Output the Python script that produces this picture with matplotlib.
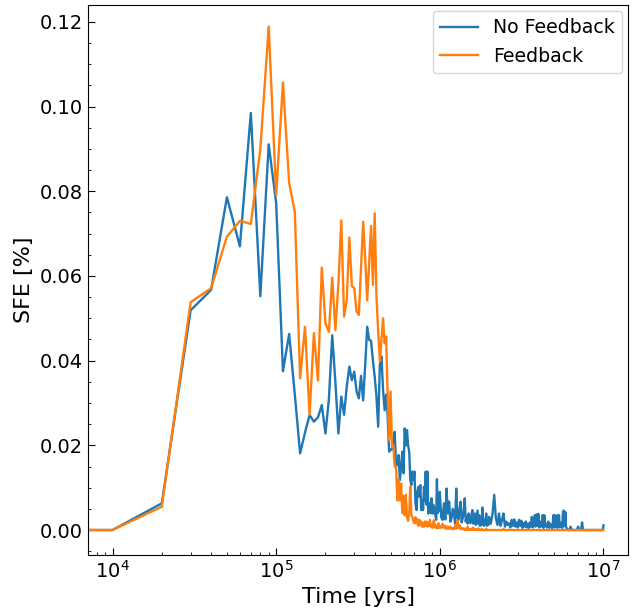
import numpy as np
import matplotlib
matplotlib.use('Agg')
import matplotlib.pyplot as plt
from matplotlib.ticker import AutoMinorLocator

# time grid, in units of 1e4 yrs
steps = np.concatenate([np.arange(0, 101), np.arange(102, 201, 2),
                        np.arange(205, 601, 5), np.arange(610, 1001, 10)])
time_yrs = steps * 1e4

# No Feedback, n = 0..100
nofb_early = [
    0.0, 0.0, 0.0063, 0.0519, 0.0567, 0.0786, 0.0670, 0.0985, 0.0552, 0.0911,
    0.0772, 0.0375, 0.0463, 0.0320, 0.0181, 0.0230, 0.0272, 0.0256, 0.0266, 0.0295,
    0.0228, 0.0310, 0.0460, 0.0350, 0.0228, 0.0315, 0.0272, 0.0339, 0.0386, 0.0354,
    0.0374, 0.0327, 0.0311, 0.0364, 0.0306, 0.0390, 0.0480, 0.0449, 0.0447, 0.0400,
    0.0362, 0.0315, 0.0244, 0.0390, 0.0410, 0.0330, 0.0283, 0.0320, 0.0268, 0.0185,
    0.0190, 0.0190, 0.0200, 0.0232, 0.0150, 0.0160, 0.0177, 0.0118, 0.0150, 0.0185,
    0.0134, 0.0240, 0.0200, 0.0236, 0.0200, 0.0185, 0.0118, 0.0106, 0.0138, 0.0118,
    0.0138, 0.0063, 0.0047, 0.0090, 0.0102, 0.0079, 0.0106, 0.0047, 0.0070, 0.0047,
    0.0102, 0.0070, 0.0138, 0.0060, 0.0138, 0.0039, 0.0050, 0.0063, 0.0040, 0.0075,
    0.0039, 0.0060, 0.0055, 0.0039, 0.0035, 0.0024, 0.0120, 0.0040, 0.0055, 0.0045,
    0.0090,
]
# n = 102..200 step 2
nofb_mid = [
    0.0030, 0.0024, 0.0063, 0.0025, 0.0098, 0.0039, 0.0067, 0.0020, 0.0028, 0.0050,
    0.0039, 0.0015, 0.0098, 0.0030, 0.0024, 0.0050, 0.0067, 0.0018, 0.0028, 0.0045,
    0.0075, 0.0020, 0.0031, 0.0015, 0.0039, 0.0025, 0.0016, 0.0035, 0.0047, 0.0015,
    0.0030, 0.0039, 0.0012, 0.0030, 0.0046, 0.0015, 0.0035, 0.0010, 0.0028, 0.0012,
    0.0053, 0.0020, 0.0010, 0.0024, 0.0015, 0.0039, 0.0010, 0.0025, 0.0012, 0.0031,
]
# n = 205..600 step 5
nofb_late = [
    0.0015, 0.0039, 0.0083, 0.0028, 0.0012, 0.0039, 0.0010, 0.0024, 0.0039, 0.0008,
    0.0020, 0.0012, 0.0016, 0.0006, 0.0024, 0.0010, 0.0025, 0.0008, 0.0018, 0.0006,
    0.0024, 0.0010, 0.0022, 0.0005, 0.0016, 0.0008, 0.0020, 0.0006, 0.0015, 0.0005,
    0.0018, 0.0008, 0.0031, 0.0006, 0.0020, 0.0035, 0.0008, 0.0037, 0.0010, 0.0038,
    0.0006, 0.0020, 0.0008, 0.0016, 0.0035, 0.0005, 0.0035, 0.0010, 0.0015, 0.0006,
    0.0012, 0.0020, 0.0005, 0.0015, 0.0008, 0.0012, 0.0004, 0.0018, 0.0035, 0.0006,
    0.0035, 0.0010, 0.0025, 0.0005, 0.0035, 0.0012, 0.0035, 0.0006, 0.0015, 0.0008,
    0.0018, 0.0005, 0.0040, 0.0046, 0.0044, 0.0010, 0.0042, 0.0008, 0.0005, 0.0002,
]
# n = 610..1000 step 10
nofb_tail = [
    0.0, 0.0, 0.0008, 0.0, 0.0, 0.0, 0.0, 0.0, 0.0, 0.0008,
    0.0, 0.0, 0.0, 0.0018, 0.0, 0.0, 0.0, 0.0, 0.0, 0.0,
    0.0, 0.0, 0.0, 0.0, 0.0, 0.0, 0.0, 0.0, 0.0, 0.0,
    0.0, 0.0, 0.0, 0.0, 0.0, 0.0, 0.0, 0.0, 0.0, 0.0011,
]

# Feedback, n = 0..100
fb_early = [
    0.0, 0.0, 0.0055, 0.0538, 0.0571, 0.0693, 0.0730, 0.0723, 0.0900, 0.1189,
    0.0791, 0.1057, 0.0820, 0.0752, 0.0358, 0.0480, 0.0272, 0.0465, 0.0353, 0.0620,
    0.0488, 0.0468, 0.0596, 0.0472, 0.0580, 0.0731, 0.0504, 0.0543, 0.0691, 0.0576,
    0.0571, 0.0516, 0.0508, 0.0620, 0.0728, 0.0640, 0.0542, 0.0630, 0.0718, 0.0579,
    0.0748, 0.0551, 0.0470, 0.0398, 0.0450, 0.0500, 0.0441, 0.0457, 0.0317, 0.0213,
    0.0327, 0.0197, 0.0200, 0.0150, 0.0150, 0.0070, 0.0120, 0.0070, 0.0110, 0.0040,
    0.0080, 0.0035, 0.0083, 0.0031, 0.0022, 0.0040, 0.0102, 0.0035, 0.0031, 0.0020,
    0.0016, 0.0030, 0.0016, 0.0025, 0.0010, 0.0024, 0.0012, 0.0020, 0.0008, 0.0015,
    0.0008, 0.0020, 0.0010, 0.0020, 0.0008, 0.0015, 0.0010, 0.0024, 0.0008, 0.0012,
    0.0005, 0.0015, 0.0023, 0.0008, 0.0012, 0.0005, 0.0010, 0.0004, 0.0016, 0.0005,
    0.0010,
]
fb_mid = [
    0.0005, 0.0015, 0.0005, 0.0010, 0.0002, 0.0008, 0.0003, 0.0008, 0.0002, 0.0005,
    0.0002, 0.0010, 0.0003, 0.0023, 0.0005, 0.0012, 0.0002, 0.0004, 0.0002, 0.0004,
    0.0, 0.0003, 0.0, 0.0008, 0.0, 0.0002, 0.0, 0.0003, 0.0, 0.0006,
    0.0, 0.0, 0.0002, 0.0, 0.0, 0.0004, 0.0, 0.0, 0.0, 0.0003,
    0.0, 0.0, 0.0, 0.0, 0.0, 0.0003, 0.0, 0.0, 0.0, 0.0,
]
fb_late = [
    0.0, 0.0, 0.0, 0.0, 0.0, 0.0, 0.0, 0.0, 0.0002, 0.0,
    0.0, 0.0, 0.0, 0.0, 0.0, 0.0, 0.0, 0.0, 0.0, 0.0,
    0.0, 0.0, 0.0, 0.0, 0.0, 0.0, 0.0, 0.0, 0.0, 0.0,
    0.0, 0.0, 0.0, 0.0, 0.0, 0.0, 0.0, 0.0, 0.0, 0.0,
    0.0, 0.0, 0.0, 0.0, 0.0, 0.0, 0.0, 0.0, 0.0, 0.0,
    0.0, 0.0, 0.0, 0.0, 0.0, 0.0, 0.0, 0.0, 0.0, 0.0,
    0.0, 0.0, 0.0, 0.0, 0.0, 0.0, 0.0, 0.0, 0.0, 0.0,
    0.0, 0.0, 0.0, 0.0, 0.0, 0.0, 0.0, 0.0, 0.0, 0.0,
]
fb_tail = [
    0.0, 0.0, 0.0, 0.0, 0.0, 0.0, 0.0, 0.0, 0.0, 0.0,
    0.0, 0.0, 0.0, 0.0, 0.0, 0.0, 0.0, 0.0, 0.0, 0.0,
    0.0, 0.0, 0.0, 0.0, 0.0, 0.0, 0.0, 0.0, 0.0, 0.0,
    0.0, 0.0, 0.0, 0.0, 0.0, 0.0, 0.0, 0.0, 0.0, 0.0,
]

sfe_nofb = np.array(nofb_early + nofb_mid + nofb_late + nofb_tail)
sfe_fb = np.array(fb_early + fb_mid + fb_late + fb_tail)
assert len(sfe_nofb) == len(time_yrs) == len(sfe_fb)

fig = plt.figure(figsize=(6.38, 6.09), dpi=100)
ax = fig.add_axes([88/638, 54/609, 540/638, 550/609])

ax.plot(time_yrs, sfe_nofb, color='#1f77b4', linewidth=1.7, label='No Feedback')
ax.plot(time_yrs, sfe_fb, color='#ff7f0e', linewidth=1.7, label='Feedback')

ax.set_xscale('log')
ax.set_xlim(10**3.85, 10**7.15)
ax.set_ylim(-0.0059, 0.124)
ax.yaxis.set_minor_locator(AutoMinorLocator(4))
ax.tick_params(which='both', direction='in', labelsize=14)
ax.tick_params(which='major', length=5)
ax.tick_params(which='minor', length=2.5)

ax.set_xlabel('Time [yrs]', fontsize=16)
ax.set_ylabel('SFE [%]', fontsize=16)
ax.legend(loc='upper right', fontsize=13.6, borderaxespad=0.3)

fig.savefig('out.png', dpi=100)
